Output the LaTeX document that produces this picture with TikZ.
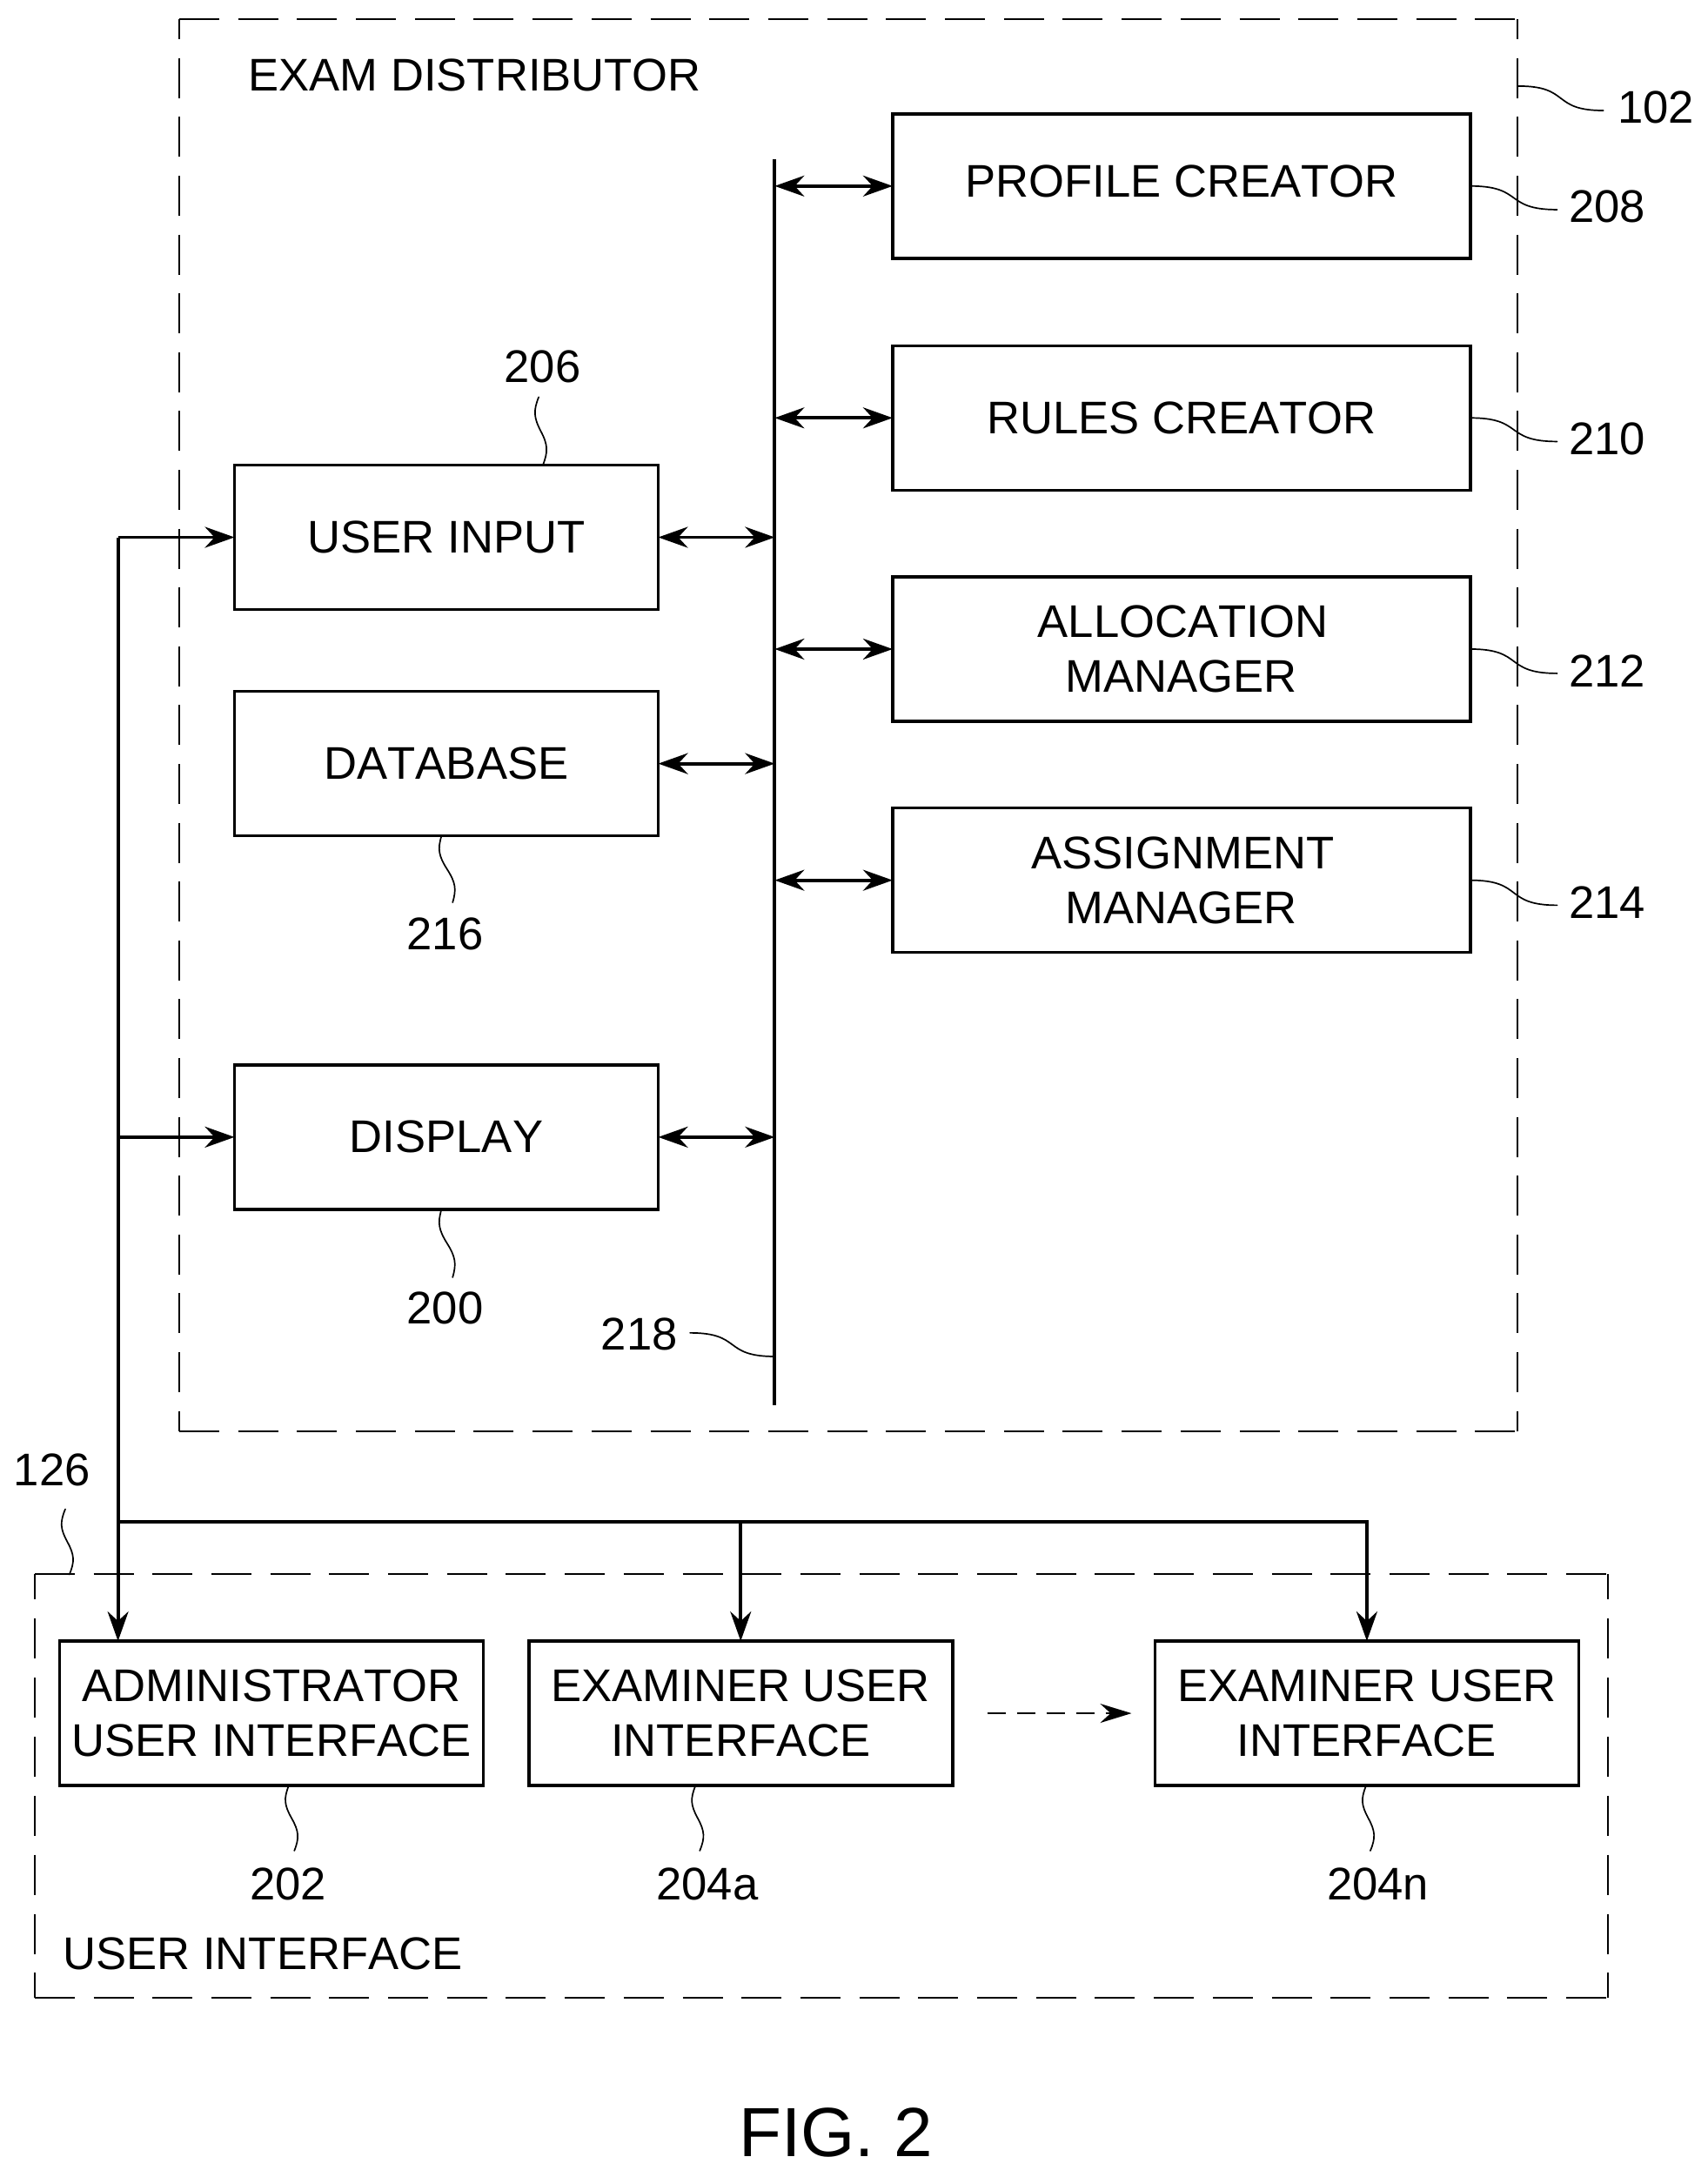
\documentclass[tikz,border=0pt]{standalone}
\usepackage{fontspec}
\setmainfont[Kerning=Off]{Liberation Sans}
\usetikzlibrary{arrows.meta,calc}
\tikzset{
  x=1.5957pt,y=-1.5957pt,
  txt/.style={font=\fontsize{52.6}{63}\selectfont,inner sep=0pt,outer sep=0pt,align=center},
  rbox/.style={txt,draw,line width=3.5pt,minimum width=664pt,minimum height=166pt},
  lbox/.style={txt,draw,line width=3.5pt,minimum width=487pt,minimum height=166pt},
  region/.style={inner sep=0pt,outer sep=0pt},
  edge/.style={line width=2.2pt,line cap=square},
  bar/.style={line width=3.8pt},
  bi/.style={line width=3.8pt,{Stealth[length=34pt,width=24pt,inset=11pt]}-{Stealth[length=34pt,width=24pt,inset=11pt]}},
  uni/.style={line width=3.8pt,-{Stealth[length=34pt,width=24pt,inset=11pt]}},
  leader/.style={line width=1.7pt,line cap=round}
}
\newcommand\sqv[2]{\draw[leader] (#1) .. controls ($(#1)!.2!(#2)+(-4.5,0)$) and ($(#1)!.3!(#2)+(-4.5,0)$) .. ($(#1)!.5!(#2)$) .. controls ($(#1)!.7!(#2)+(4.5,0)$) and ($(#1)!.8!(#2)+(4.5,0)$) .. (#2);}
\newcommand\sqh[2]{\draw[leader] (#1) .. controls ($(#1)!.62!(#2 |- #1)$) and ($(#2)!.62!(#1 |- #2)$) .. (#2);}
\begin{document}
\begin{tikzpicture}
\path[use as bounding box,fill=white] (0,0) rectangle (1230.2,1568);
% frames
\node[region,minimum width=1538pt,minimum height=1623pt] (dist) at (611,522.5) {};
\node[region,minimum width=1808pt,minimum height=487pt] (ui) at (591.5,1286.5) {};
\draw[edge,dash pattern=on 46pt off 21.7pt] (dist.north west) -- (dist.north east);
\draw[edge,dash pattern=on 46pt off 21.7pt] (dist.south west) -- (dist.south east);
\draw[edge,dash pattern=on 46pt off 21.6pt,dash phase=23pt] (dist.north west) -- (dist.south west);
\draw[edge,dash pattern=on 46pt off 21.6pt,dash phase=23pt] (dist.north east) -- (dist.south east);
\draw[edge,dash pattern=on 46pt off 21.7pt] (ui.north west) -- (ui.north east);
\draw[edge,dash pattern=on 46pt off 21.7pt] (ui.south west) -- (ui.south east);
\draw[edge,dash pattern=on 46pt off 21.86pt,dash phase=17pt] (ui.north west) -- (ui.south west);
\draw[edge,dash pattern=on 46pt off 21.86pt,dash phase=17pt] (ui.north east) -- (ui.south east);
\node[txt,anchor=west] (tdist) at (179,54) {EXAM DISTRIBUTOR};
\node[txt,anchor=west] (tui) at (45.5,1407) {USER INTERFACE};
% right boxes
\node[rbox] (pc) at (851,134) {\raisebox{12pt}{PROFILE CREATOR}};
\node[rbox] (rc) at (851,301) {RULES CREATOR};
\node[rbox] (am) at (851,467.5) {\hspace*{3pt}ALLOCATION\\MANAGER};
\node[rbox] (asg) at (851,634) {\hspace*{3pt}ASSIGNMENT\\MANAGER};
% left boxes
\node[lbox] (usr) at (321.5,387) {USER INPUT};
\node[lbox] (db) at (321.5,550) {DATABASE};
\node[lbox] (disp) at (321.5,819) {DISPLAY};
% bottom boxes
\node[lbox] (adm) at (195.5,1234) {ADMINISTRATOR\\USER INTERFACE};
\node[lbox] (eua) at (533.5,1234) {EXAMINER USER\\INTERFACE};
\node[lbox] (eun) at (984.5,1234) {EXAMINER USER\\INTERFACE};
% bus
\coordinate (bt) at (558,115);
\coordinate (bb) at (558,1012);
\draw[bar] (bt) -- (bb);
\foreach \n in {pc,rc,am,asg} \draw[bi] (bt |- \n.west) -- (\n.west);
\foreach \n in {usr,db,disp} \draw[bi] (\n.east) -- (bt |- \n.east);
% trunk
\coordinate (tr) at (85,1096);
\draw[uni] (tr |- usr.west) -- (usr.west);
\draw[uni] (tr |- disp.west) -- (disp.west);
\draw[uni] (tr |- usr.west) -- (tr |- adm.north);
\draw[uni] (tr) -| (eua.north);
\draw[uni] (tr) -| (eun.north);
\coordinate (da) at (711,1234);
\coordinate (db2) at (815,1234);
\draw[line width=2.4pt,dash pattern=on 21pt off 13pt,-{Stealth[length=36pt,width=22pt,inset=12pt]}] (da) -- (db2);
% labels
\node[txt] (l102) at (1192.7,77.5) {102};
\node[txt] (l208) at (1157.5,149) {208};
\node[txt] (l210) at (1157.5,316) {210};
\node[txt] (l212) at (1157.5,483) {212};
\node[txt] (l214) at (1157.5,650) {214};
\node[txt] (l206) at (390.7,264) {206};
\node[txt] (l216) at (320.5,673) {216};
\node[txt] (l200) at (320.5,942) {200};
\node[txt] (l218) at (460.5,961) {218};
\node[txt] (l126) at (37.5,1059) {126};
\node[txt] (l202) at (207.5,1357) {202};
\node[txt] (l204a) at (509.5,1357) {204a};
\node[txt] (l204n) at (992.5,1357) {204n};
% leaders
\coordinate (k102) at (1093.6,62);
\coordinate (e102) at (1154.8,79.6);
\sqh{k102}{e102}
\foreach \n/\l in {pc/l208,rc/l210,am/l212,asg/l214}{
  \coordinate (s) at ($(\l.west)+(-8.5,2)$);
  \coordinate (t) at (\n.east);
  \sqh{t}{s}
}
\coordinate (e206) at (388,286);
\coordinate (k206) at (391,335);
\sqv{e206}{k206}
\coordinate (k216) at (318,602);
\coordinate (e216) at (326,650);
\sqv{k216}{e216}
\coordinate (k200) at (318,871);
\coordinate (e200) at (326,920);
\sqv{k200}{e200}
\coordinate (e218) at (497,960);
\coordinate (k218) at (bt |- 0,977);
\sqh{e218}{k218}
\coordinate (e126) at (47,1087);
\coordinate (k126) at (50,1134);
\sqv{e126}{k126}
\coordinate (k202) at (208,1286);
\coordinate (e202) at (212,1333);
\sqv{k202}{e202}
\coordinate (k204a) at (501,1286);
\coordinate (e204a) at (504,1333);
\sqv{k204a}{e204a}
\coordinate (k204n) at (984,1286);
\coordinate (e204n) at (987,1333);
\sqv{k204n}{e204n}
% caption
\node[inner sep=0pt,outer sep=0pt,font=\fontsize{80}{90}\selectfont] (fig) at (602,1536) {FIG. 2};
\end{tikzpicture}
\end{document}
